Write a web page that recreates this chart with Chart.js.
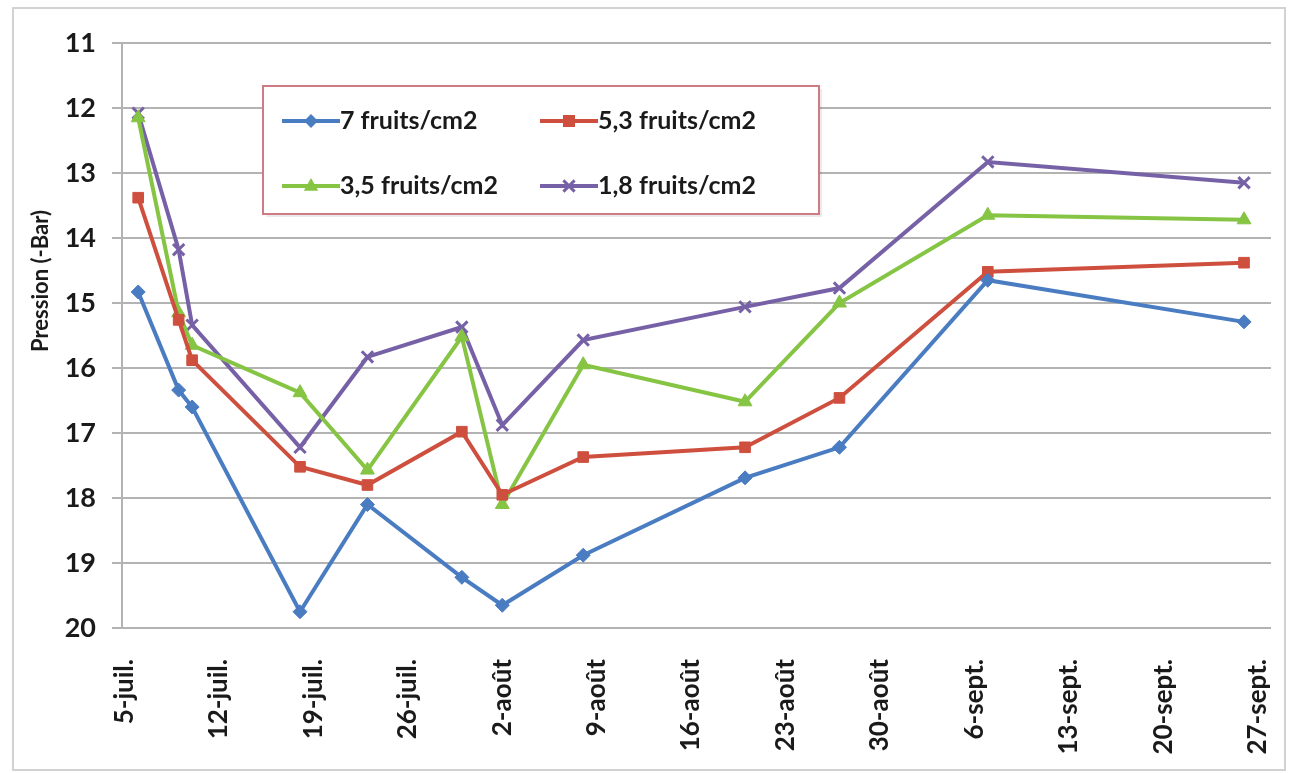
<!DOCTYPE html>
<html>
<head>
<meta charset="utf-8">
<script src="https://cdn.jsdelivr.net/npm/chart.js@4.4.1/dist/chart.umd.min.js"></script>
<style>
  html, body { margin: 0; padding: 0; background: #ffffff; }
  #wrap { width: 1295px; height: 773px; position: relative; }
</style>
</head>
<body>
<div id="wrap"><canvas id="c" width="1295" height="773"></canvas></div>
<script>
// Sampling days, counted from 5 July
const sampleDays = [1, 4, 5, 13, 18, 25, 28, 34, 46, 53, 64, 83];

// Weekly axis labels (every 7 days from 5 July)
const tickLabels = ['5-juil.', '12-juil.', '19-juil.', '26-juil.', '2-août', '9-août',
  '16-août', '23-août', '30-août', '6-sept.', '13-sept.', '20-sept.', '27-sept.'];

const seriesNames = ['7 fruits/cm2', '5,3 fruits/cm2', '3,5 fruits/cm2', '1,8 fruits/cm2'];

// Stem water potential, -Bar
const p7  = [14.83, 16.34, 16.60, 19.75, 18.10, 19.22, 19.65, 18.88, 17.69, 17.22, 14.65, 15.29];
const p53 = [13.38, 15.26, 15.88, 17.52, 17.80, 16.98, 17.95, 17.37, 17.22, 16.46, 14.52, 14.38];
const p35 = [12.15, 15.15, 15.65, 16.38, 17.57, 15.52, 18.10, 15.95, 16.52, 15.00, 13.65, 13.72];
const p18 = [12.08, 14.18, 15.34, 17.22, 15.83, 15.37, 16.88, 15.57, 15.06, 14.77, 12.83, 13.15];

const yTitle = 'Pression (-Bar)';

const colors = ['#4a7cc2', '#cf4f3e', '#86c444', '#7761a6'];
const styles = ['rectRot', 'rect', 'triangle', 'crossRot'];
const radii  = [7, 7.5, 8, 8];

const toPoints = arr => arr.map((v, i) => ({ x: sampleDays[i], y: v }));
const allValues = [p7, p53, p35, p18];

const datasets = allValues.map((vals, i) => ({
  label: seriesNames[i],
  data: toPoints(vals),
  borderColor: colors[i],
  backgroundColor: colors[i],
  borderWidth: 4,
  pointStyle: styles[i],
  pointRadius: radii[i],
  pointBorderWidth: i === 3 ? 3 : 1,
  pointBorderColor: colors[i],
  pointBackgroundColor: colors[i],
  tension: 0,
  fill: false
}));

const FONT = 'Lato, "Open Sans", "Liberation Sans", sans-serif';

function drawMarker(ctx, style, x, y, r, color) {
  ctx.save();
  ctx.fillStyle = color;
  ctx.strokeStyle = color;
  ctx.lineWidth = 3;
  ctx.beginPath();
  if (style === 'rectRot') {
    ctx.moveTo(x, y - r); ctx.lineTo(x + r, y); ctx.lineTo(x, y + r); ctx.lineTo(x - r, y);
    ctx.closePath(); ctx.fill();
  } else if (style === 'rect') {
    const s = r * 0.8;
    ctx.rect(x - s, y - s, 2 * s, 2 * s); ctx.fill();
  } else if (style === 'triangle') {
    ctx.moveTo(x, y - r); ctx.lineTo(x + r * 0.9, y + r * 0.6); ctx.lineTo(x - r * 0.9, y + r * 0.6);
    ctx.closePath(); ctx.fill();
  } else {
    const s = r * 0.7;
    ctx.moveTo(x - s, y - s); ctx.lineTo(x + s, y + s);
    ctx.moveTo(x + s, y - s); ctx.lineTo(x - s, y + s);
    ctx.stroke();
  }
  ctx.restore();
}

// Page frame and white background
const framePlugin = {
  id: 'frame',
  beforeDraw(chart) {
    const ctx = chart.ctx;
    ctx.save();
    ctx.fillStyle = '#ffffff';
    ctx.fillRect(0, 0, chart.width, chart.height);
    ctx.strokeStyle = '#d2d2d2';
    ctx.lineWidth = 2;
    ctx.strokeRect(13, 8, 1272, 762);
    ctx.restore();
  }
};

// Vertical axis title, set a little above the plot's middle
const yTitlePlugin = {
  id: 'yTitle',
  afterDraw(chart) {
    const ctx = chart.ctx;
    ctx.save();
    ctx.translate(41, 281);
    ctx.rotate(-Math.PI / 2);
    ctx.fillStyle = '#1a1a1a';
    ctx.font = 'bold 22px ' + FONT;
    ctx.textAlign = 'center';
    ctx.textBaseline = 'middle';
    ctx.fillText(yTitle, 0, 0);
    ctx.restore();
  }
};

// Boxed legend inside the plot
const boxLegend = {
  id: 'boxLegend',
  afterDraw(chart) {
    const ctx = chart.ctx;
    const bx = 263, by = 86, bw = 556, bh = 128;
    ctx.save();
    ctx.fillStyle = 'rgba(0,0,0,0.08)';
    ctx.fillRect(bx + 3, by + 3, bw, bh);
    ctx.fillStyle = '#ffffff';
    ctx.fillRect(bx, by, bw, bh);
    ctx.strokeStyle = '#cf7b84';
    ctx.lineWidth = 2;
    ctx.strokeRect(bx, by, bw, bh);
    const cols = [282, 540];
    const rows = [121, 186];
    chart.data.datasets.forEach((ds, i) => {
      const x = cols[i % 2], y = rows[Math.floor(i / 2)];
      ctx.strokeStyle = ds.borderColor;
      ctx.lineWidth = 4;
      ctx.beginPath();
      ctx.moveTo(x, y); ctx.lineTo(x + 58, y);
      ctx.stroke();
      drawMarker(ctx, ds.pointStyle, x + 29, y, ds.pointRadius, ds.borderColor);
      ctx.fillStyle = '#1a1a1a';
      ctx.font = 'bold 25px ' + FONT;
      ctx.textBaseline = 'middle';
      ctx.textAlign = 'left';
      ctx.fillText(ds.label, x + 58, y);
    });
    ctx.restore();
  }
};

new Chart(document.getElementById('c'), {
  type: 'line',
  data: { datasets },
  plugins: [framePlugin, yTitlePlugin, boxLegend],
  options: {
    responsive: false,
    animation: false,
    layout: { padding: { top: 43, right: 24, bottom: 0, left: 0 } },
    plugins: {
      legend: { display: false },
      tooltip: { enabled: false }
    },
    scales: {
      x: {
        type: 'linear',
        min: -0.2,
        max: 85,
        afterBuildTicks(scale) {
          scale.ticks = tickLabels.map((_, i) => ({ value: i * 7 }));
        },
        afterFit(scale) {
          scale.height = 145;
          scale.paddingLeft = 0;
          scale.paddingRight = 0;
        },
        grid: { display: false, drawTicks: false, tickLength: 0 },
        border: { display: false },
        ticks: {
          autoSkip: false,
          maxRotation: 90,
          minRotation: 90,
          padding: 31,
          color: '#1a1a1a',
          font: { family: FONT, size: 26, weight: 'bold' },
          callback: (value, index) => tickLabels[index]
        }
      },
      y: {
        reverse: true,
        min: 11,
        max: 20,
        afterFit(scale) { scale.width = 122; },
        ticks: {
          stepSize: 1,
          padding: 16,
          color: '#1a1a1a',
          font: { family: FONT, size: 27, weight: 'bold' }
        },
        grid: {
          color: '#b3b3b3',
          lineWidth: 2,
          drawTicks: true,
          tickLength: 10
        },
        border: { display: true, color: '#b3b3b3', width: 2 }
      }
    }
  }
});
</script>
</body>
</html>
